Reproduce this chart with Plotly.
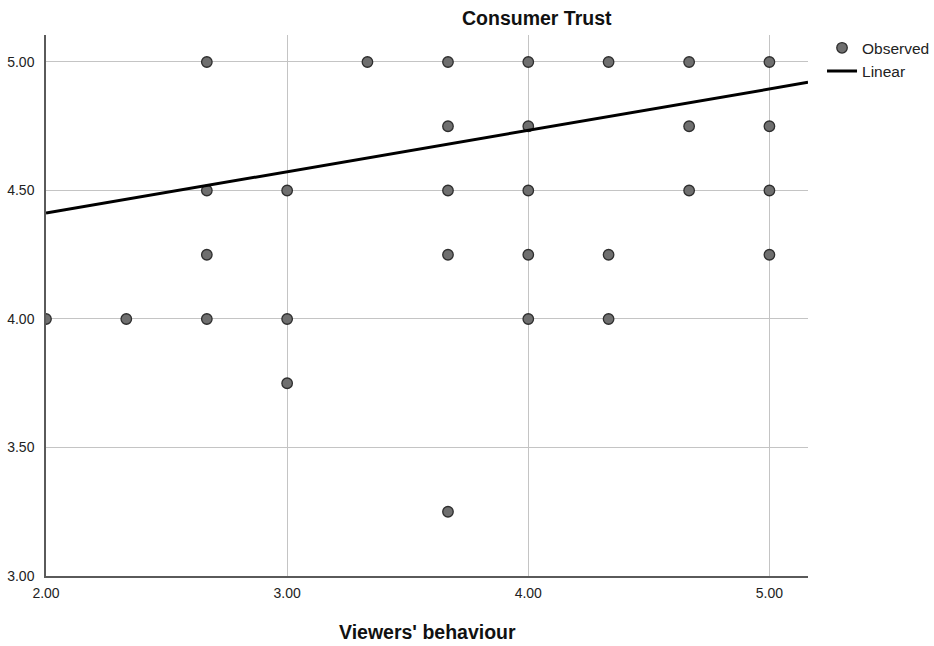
import plotly.graph_objects as go

# Observed data (Viewers' behaviour vs Consumer Trust)
obs_x = [2.667, 3.333, 3.667, 4.0, 4.333, 4.667, 5.0,
         3.667, 4.0, 4.667, 5.0,
         2.667, 3.0, 3.667, 4.0, 4.667, 5.0,
         2.667, 3.667, 4.0, 4.333, 5.0,
         2.0, 2.333, 2.667, 3.0, 4.0, 4.333,
         3.0,
         3.667]
obs_y = [5.0, 5.0, 5.0, 5.0, 5.0, 5.0, 5.0,
         4.75, 4.75, 4.75, 4.75,
         4.5, 4.5, 4.5, 4.5, 4.5, 4.5,
         4.25, 4.25, 4.25, 4.25, 4.25,
         4.0, 4.0, 4.0, 4.0, 4.0, 4.0,
         3.75,
         3.25]

# Linear fit
fit_intercept = 4.09
fit_slope = 0.161
x_range = [2.0, 5.16]
y_range = [3.0, 5.105]
fit_x = x_range
fit_y = [fit_intercept + fit_slope * v for v in fit_x]

tick_x = [2.0, 3.0, 4.0, 5.0]
tick_x_labels = ["2.00", "3.00", "4.00", "5.00"]
tick_y = [3.0, 3.5, 4.0, 4.5, 5.0]
tick_y_labels = ["3.00", "3.50", "4.00", "4.50", "5.00"]

font_family = "Arial, Liberation Sans, sans-serif"

fig = go.Figure()
fig.add_trace(go.Scatter(
    x=obs_x, y=obs_y, mode="markers", name="Observed",
    marker=dict(size=10.5, color="#6f6f6f", line=dict(color="#2e2e2e", width=1.3)),
))
fig.add_trace(go.Scatter(
    x=fit_x, y=fit_y, mode="lines", name="Linear",
    line=dict(color="black", width=3),
))

fig.update_layout(
    width=934, height=646,
    margin=dict(l=46, r=126, t=35, b=70, autoexpand=False),
    paper_bgcolor="white", plot_bgcolor="white",
    font=dict(family=font_family, color="#222222", size=14),
    showlegend=True,
    legend=dict(x=1.0184, y=1.007, xanchor="left", yanchor="top",
                font=dict(size=15.5, color="#222222"),
                bgcolor="rgba(0,0,0,0)", tracegroupgap=0, itemwidth=30),
    xaxis=dict(range=x_range, tickvals=tick_x, ticktext=tick_x_labels,
               showgrid=True, gridcolor="#c4c4c4", gridwidth=1,
               zeroline=False, showline=True, linecolor="#5a5a5a", linewidth=1.5,
               ticks="", ticklabelstandoff=3, automargin=False,
               tickfont=dict(size=14, color="#222222")),
    yaxis=dict(range=y_range, tickvals=tick_y, ticktext=tick_y_labels,
               showgrid=True, gridcolor="#c4c4c4", gridwidth=1,
               zeroline=False, showline=True, linecolor="#5a5a5a", linewidth=1.5,
               ticks="", ticklabelstandoff=7, automargin=False,
               tickfont=dict(size=14, color="#222222")),
    annotations=[
        dict(text="<b>Consumer Trust</b>", xref="paper", yref="paper",
             x=0.644, y=1.031, xanchor="center", yanchor="middle",
             showarrow=False, font=dict(size=19.5, color="#111111")),
        dict(text="<b>Viewers' behaviour</b>", xref="paper", yref="paper",
             x=0.5, y=-0.1035, xanchor="center", yanchor="middle",
             showarrow=False, font=dict(size=19.5, color="#111111")),
    ],
)

fig.write_html("out.html", config={"displayModeBar": False},
               post_script="document.body.style.margin='0';")
